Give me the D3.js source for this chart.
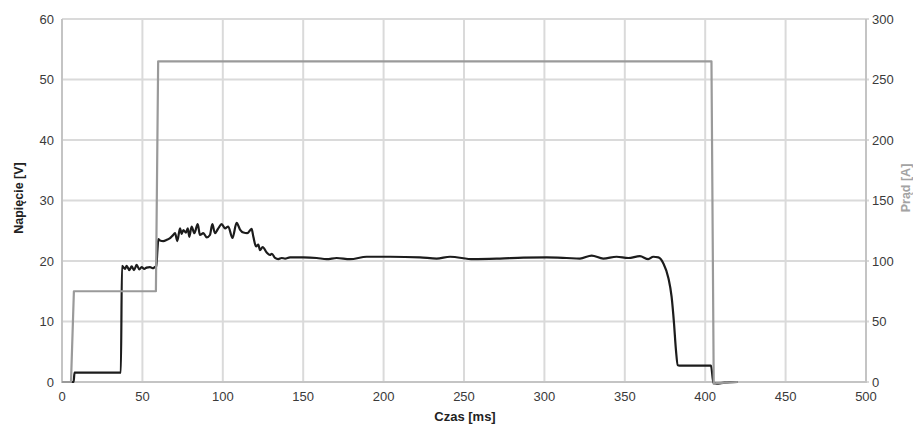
<!DOCTYPE html>
<html>
<head>
<meta charset="utf-8">
<script src="https://cdn.jsdelivr.net/npm/d3@7"></script>
<style>
  html, body { margin: 0; padding: 0; background: #fff; }
  svg { display: block; }
  text { font-family: "Liberation Sans", Arial, Helvetica, sans-serif; }
</style>
</head>
<body>
<svg id="chart" width="913" height="425"></svg>
<script>
// ---- data ----
const xTicks = [0, 50, 100, 150, 200, 250, 300, 350, 400, 450, 500];
const voltageTicks = [0, 10, 20, 30, 40, 50, 60];
const currentTicks = [0, 50, 100, 150, 200, 250, 300];

const xTitle = "Czas [ms]";
const voltageTitle = "Napięcie [V]";
const currentTitle = "Prąd [A]";

// Napięcie [V] vs czas [ms]
const voltage = [
  [0,0],[7.2,0],[7.8,1.55],[20,1.55],[36.6,1.55],[37.3,19.2],[39.2,18.7],[40.2,19.2],
  [41.9,18.5],[43.3,19.1],[44.8,18.5],[46.4,19.35],[48.1,18.6],[49.5,19.0],[51.2,18.7],
  [52.6,18.9],[54.7,19.0],[56.4,18.8],[57.8,19.0],[58.6,19.1],[59.4,22.0],[59.9,23.6],
  [60.9,23.4],[63.0,23.3],[65.1,23.5],[67.2,23.8],[68.8,24.2],[70.3,24.6],[71.7,23.3],
  [73.4,25.4],[74.4,24.5],[75.5,25.1],[77.1,24.7],[78.2,25.4],[79.2,24.0],[80.6,25.7],
  [82.3,24.6],[84.4,26.1],[85.8,24.3],[87.9,24.6],[90.0,23.9],[92.0,24.3],[93.5,26.1],
  [95.1,24.6],[97.2,25.4],[99.3,26.1],[101.4,25.4],[103.4,25.7],[106.0,23.8],[108.6,26.3],
  [110.7,25.2],[112.8,24.7],[115.2,24.6],[117.9,25.3],[119.0,24.0],[120.7,22.4],[122.1,22.7],
  [123.1,21.8],[124.8,22.3],[127.3,21.4],[129.3,21.0],[130.5,21.2],[132.5,20.5],[134.5,20.3],
  [136.6,20.5],[138.7,20.4],[141.8,20.6],[150.1,20.6],[158.4,20.5],[164.6,20.3],[170.8,20.5],
  [179.1,20.3],[189.5,20.7],[204,20.7],[222.6,20.6],[233,20.4],[241.3,20.7],[255.8,20.3],
  [272.4,20.4],[286.9,20.55],[301.4,20.6],[313.8,20.5],[322.1,20.4],[329.4,20.9],[336.6,20.4],
  [344.9,20.7],[352.2,20.5],[359.4,20.8],[364.6,20.3],[367.7,20.7],[370.9,20.6],[374.0,19.6],
  [377.1,17.2],[379.1,14.1],[380.6,9.7],[381.8,5.3],[382.9,2.8],[384,2.7],[403.6,2.7],
  [405.1,-0.1],[407.1,-0.3],[412,-0.1],[420,0]
];

// Prąd [A] vs czas [ms]
const current = [
  [0,0],[5.6,0],[7.4,75],[58.4,75],[59.8,265],[403.9,265],[405.3,-1.5],[408,-1],[420,0]
];

// ---- layout ----
const svg = d3.select("#chart");
const mLeft = 62, mRight = 866, mTop = 19, mBottom = 382;

const x = d3.scaleLinear().domain([0, 500]).range([mLeft, mRight]);
const yV = d3.scaleLinear().domain([0, 60]).range([mBottom, mTop]);
const yA = d3.scaleLinear().domain([0, 300]).range([mBottom, mTop]);

const gridColor = "#dadada";
const axisColor = "#c4c4c4";
const textColor = "#3a3a3a";

// grid
svg.append("g").selectAll("line").data(voltageTicks).join("line")
  .attr("x1", mLeft).attr("x2", mRight + 3)
  .attr("y1", d => yV(d)).attr("y2", d => yV(d))
  .attr("stroke", gridColor).attr("stroke-width", 2);
svg.append("g").selectAll("line").data(xTicks).join("line")
  .attr("x1", d => x(d)).attr("x2", d => x(d))
  .attr("y1", mTop).attr("y2", mBottom)
  .attr("stroke", gridColor).attr("stroke-width", 2);

// axis lines
svg.append("line").attr("x1", mLeft).attr("x2", mLeft).attr("y1", mTop).attr("y2", mBottom)
  .attr("stroke", axisColor).attr("stroke-width", 2);
svg.append("line").attr("x1", mRight).attr("x2", mRight).attr("y1", mTop).attr("y2", mBottom)
  .attr("stroke", axisColor).attr("stroke-width", 2);
svg.append("line").attr("x1", mLeft - 1).attr("x2", mRight + 1).attr("y1", mBottom).attr("y2", mBottom)
  .attr("stroke", axisColor).attr("stroke-width", 2);

// tick labels
svg.append("g").selectAll("text").data(voltageTicks).join("text")
  .attr("x", 54).attr("y", d => yV(d)).attr("dy", "0.35em")
  .attr("text-anchor", "end").attr("font-size", 13).attr("fill", textColor)
  .text(d => d);
svg.append("g").selectAll("text").data(currentTicks).join("text")
  .attr("x", 872).attr("y", d => yA(d)).attr("dy", "0.35em")
  .attr("text-anchor", "start").attr("font-size", 13).attr("fill", textColor)
  .text(d => d);
svg.append("g").selectAll("text").data(xTicks).join("text")
  .attr("x", d => x(d)).attr("y", 401)
  .attr("text-anchor", "middle").attr("font-size", 13).attr("fill", textColor)
  .text(d => d);

// titles
svg.append("text").attr("x", 465).attr("y", 421).attr("text-anchor", "middle")
  .attr("font-size", 13).attr("font-weight", "bold").attr("fill", "#222")
  .text(xTitle);
svg.append("text").attr("transform", "translate(23,198) rotate(-90)")
  .attr("text-anchor", "middle").attr("font-size", 12.5).attr("font-weight", "bold").attr("fill", "#222")
  .text(voltageTitle);
svg.append("text").attr("transform", "translate(910,188) rotate(-90)")
  .attr("text-anchor", "middle").attr("font-size", 12.5).attr("font-weight", "bold").attr("fill", "#a3a3a3")
  .text(currentTitle);

// series
const lineV = d3.line().x(d => x(d[0])).y(d => yV(d[1])).curve(d3.curveMonotoneX);
const lineA = d3.line().x(d => x(d[0])).y(d => yA(d[1])).curve(d3.curveLinear);

svg.append("path").datum(voltage).attr("d", lineV)
  .attr("fill", "none").attr("stroke", "#1c1c1c").attr("stroke-width", 2.2)
  .attr("stroke-linejoin", "round");
svg.append("path").datum(current).attr("d", lineA)
  .attr("fill", "none").attr("stroke", "#9a9a9a").attr("stroke-width", 2.2)
  .attr("stroke-linejoin", "round");
</script>
</body>
</html>
